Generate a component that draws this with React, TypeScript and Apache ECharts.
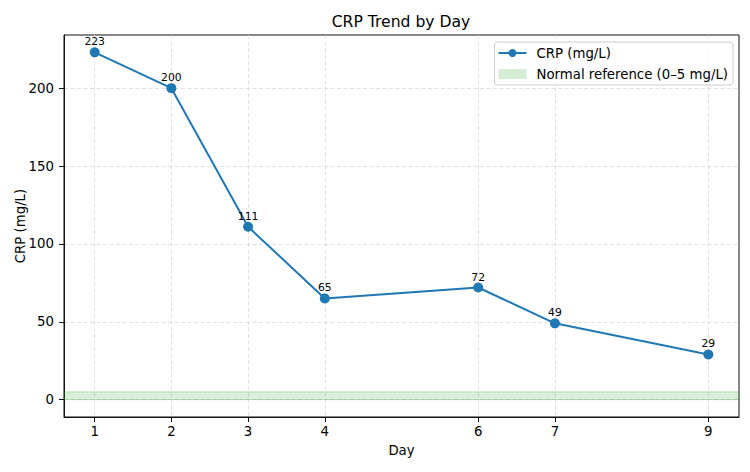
import React, { useEffect, useRef } from "react";
import * as echarts from "echarts";

const days = [1, 2, 3, 4, 6, 7, 9];
const crp = [223, 200, 111, 65, 72, 49, 29];
const xTicks = [1, 2, 3, 4, 6, 7, 9];
const yTicks = [0, 50, 100, 150, 200];
const normalRange = [0, 5];
const title = "CRP Trend by Day";
const seriesName = "CRP (mg/L)";
const refName = "Normal reference (0–5 mg/L)";

const FONT = "DejaVu Sans";

export default function App() {
  const ref = useRef<HTMLDivElement>(null);
  useEffect(() => {
    if (!ref.current) return;
    const chart = echarts.init(ref.current, undefined, { renderer: "svg" });
    const splitLine = { show: true, lineStyle: { color: "#d9d9d9", type: [4, 2.5], width: 0.8 } };
    chart.setOption({
      animation: false,
      backgroundColor: "#ffffff",
      textStyle: { fontFamily: FONT },
      graphic: [
        {
          type: "text",
          x: 401,
          y: 22,
          style: { text: title, font: `15.6px ${FONT}`, fill: "#000", textAlign: "center", textVerticalAlign: "middle" },
        },
      ],
      grid: {
        left: 64,
        right: 11,
        top: 35,
        bottom: 55,
        containLabel: false,
        outerBoundsMode: "none",
        show: true,
        borderColor: "#111",
        borderWidth: 1,
        backgroundColor: "transparent",
      },
      legend: {
        right: 17,
        top: 42,
        orient: "vertical",
        itemGap: 5,
        itemWidth: 28,
        itemHeight: 10,
        padding: [3, 5, 3, 3],
        borderColor: "#cccccc",
        borderWidth: 1,
        borderRadius: 3,
        backgroundColor: "rgba(255,255,255,0.8)",
        textStyle: { fontSize: 13.3, lineHeight: 16, color: "#000", fontFamily: FONT, padding: [0, 0, 0, 5] },
        data: [
          { name: seriesName },
          { name: refName, icon: "rect", itemStyle: { color: "rgba(44,160,44,0.2)", borderColor: "rgba(44,160,44,0.3)" } },
        ],
      },
      xAxis: {
        type: "value",
        min: 0.6,
        max: 9.4,
        name: "Day",
        nameLocation: "middle",
        nameGap: 27,
        nameMoveOverlap: false,
        nameTextStyle: { fontSize: 13.3, color: "#000", fontFamily: FONT },
        axisLine: { show: true, onZero: false, lineStyle: { color: "#111" } },
        axisTick: { show: true, customValues: xTicks, length: 5, lineStyle: { color: "#111" } },
        axisLabel: { customValues: xTicks, fontSize: 13.3, color: "#000", margin: 8, fontFamily: FONT },
        splitLine,
      },
      yAxis: {
        type: "value",
        min: -11.15,
        max: 234.15,
        name: "CRP (mg/L)",
        nameLocation: "middle",
        nameGap: 37,
        nameMoveOverlap: false,
        nameTextStyle: { fontSize: 13.3, color: "#000", fontFamily: FONT },
        axisLine: { show: true, onZero: false, lineStyle: { color: "#111" } },
        axisTick: { show: true, customValues: yTicks, length: 5, lineStyle: { color: "#111" } },
        axisLabel: { customValues: yTicks, fontSize: 13.3, color: "#000", margin: 10, fontFamily: FONT },
        splitLine,
      },
      series: [
        {
          name: refName,
          type: "line",
          data: [],
          itemStyle: { color: "rgba(44,160,44,0.2)" },
          markArea: {
            silent: true,
            itemStyle: { color: "rgba(44,160,44,0.18)", borderColor: "rgba(44,160,44,0.25)", borderWidth: 1 },
            data: [[{ yAxis: normalRange[0] }, { yAxis: normalRange[1] }]],
          },
        },
        {
          name: seriesName,
          type: "line",
          data: days.map((d, i) => [d, crp[i]]),
          symbol: "circle",
          symbolSize: 10,
          z: 5,
          lineStyle: { color: "#1f77b4", width: 2 },
          itemStyle: { color: "#1f77b4" },
          label: { show: true, position: "top", distance: 0, fontSize: 10.8, color: "#000", fontFamily: FONT },
        },
      ],
    });
    return () => chart.dispose();
  }, []);
  return <div ref={ref} style={{ width: 750, height: 472, position: "absolute", left: 0, top: 0 }} />;
}
